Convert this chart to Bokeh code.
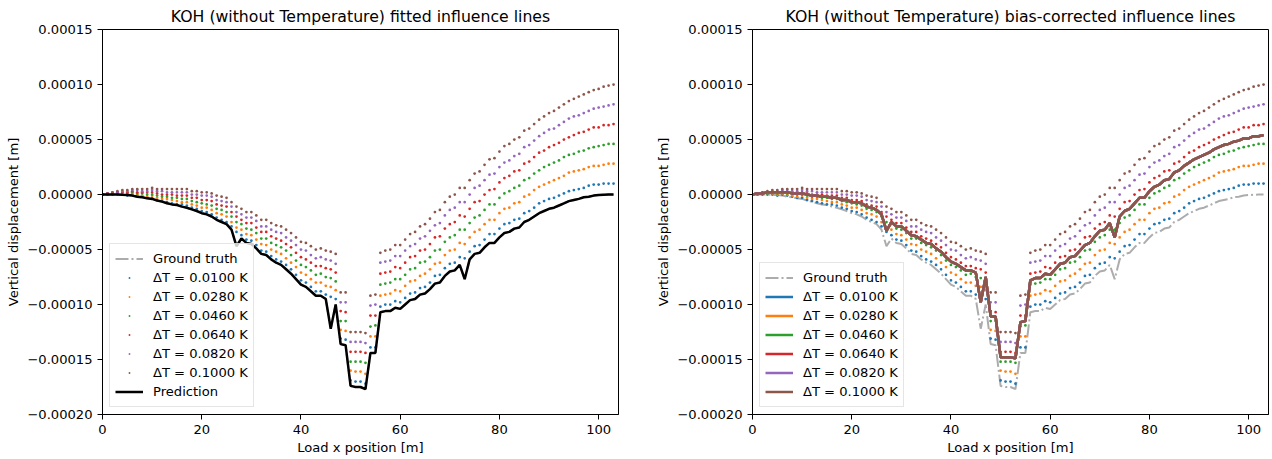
from bokeh.plotting import figure
from bokeh.models import FixedTicker, Legend, LegendItem
from bokeh.layouts import row
from bokeh.embed import file_html
from bokeh.resources import INLINE

# ---------------- data (vertical displacement in micrometres, 1e-6 m) ----------------
load_x = list(range(104))  # load position [m]

ground_truth = [0, 0, 0, 0, -0.3, -0.5, -1, -2, -2.5, -3.5,
                -4, -5.5, -6.5, -8, -9, -9.5, -11, -12, -13.5, -15,
                -17, -18, -20, -23, -25, -27, -32, -47, -40, -44,
                -45, -49, -54, -55, -59, -62, -64, -68, -72, -77,
                -82, -84, -88, -92, -92, -95, -122, -100, -136, -137,
                -174, -175, -175, -177, -144, -144, -107, -106, -106, -103,
                -104, -100, -96, -95, -91, -90, -86, -81, -80, -74,
                -70, -69, -64, -77, -59, -54, -53, -48, -44, -44,
                -39, -35, -34, -31, -30, -25, -23, -20, -17, -15,
                -13, -12, -10, -8, -6, -5, -4, -2.5, -2, -1,
                -0.5, -0.3, -0.1, 0]

prediction = ground_truth  # KOH prediction coincides with the ground truth

dT_0100 = [0, 0, 0, 0, 0, -1, 0, -1, -2, -3,
           -3, -5, -6, -7, -8, -9, -9, -10, -12, -13,
           -15, -16, -18, -21, -23, -25, -29, -34, -37, -41,
           -42, -46, -51, -52, -56, -59, -61, -64, -68, -73,
           -78, -80, -84, -88, -88, -91, -93, -95, -131, -132,
           -169, -170, -170, -172, -139, -139, -102, -100, -100, -97,
           -98, -94, -90, -89, -85, -84, -80, -74, -73, -67,
           -63, -62, -57, -58, -52, -47, -46, -41, -36, -36,
           -31, -27, -26, -23, -22, -17, -15, -12, -8, -6,
           -4, -3, -1, 1, 3, 4, 5, 6, 8, 9,
           9, 10, 10, 10]

dT_0280 = [0, 0, 1, 1, 1, 0, 1, 0, -1, -2,
           -1, -3, -4, -4, -5, -6, -7, -7, -9, -10,
           -12, -12, -14, -17, -18, -20, -25, -30, -32, -36,
           -37, -41, -45, -46, -50, -52, -54, -58, -62, -66,
           -71, -73, -77, -80, -80, -83, -84, -87, -123, -124,
           -160, -161, -161, -163, -129, -129, -92, -91, -90, -87,
           -88, -83, -79, -78, -74, -72, -68, -63, -62, -55,
           -51, -50, -44, -45, -39, -34, -32, -27, -23, -23,
           -17, -13, -12, -8, -7, -2, 0, 4, 7, 9,
           11, 13, 15, 17, 20, 21, 22, 23, 25, 26,
           26, 27, 28, 28]

dT_0460 = [0, 0, 1, 1, 2, 1, 2, 1, 1, 0,
           0, -1, -2, -2, -3, -3, -4, -4, -6, -7,
           -8, -9, -10, -13, -14, -16, -20, -25, -27, -31,
           -32, -35, -40, -40, -44, -46, -48, -51, -55, -60,
           -64, -66, -69, -73, -72, -75, -76, -79, -115, -115,
           -152, -152, -152, -153, -120, -119, -82, -81, -80, -77,
           -77, -73, -68, -67, -62, -61, -57, -51, -50, -43,
           -39, -37, -32, -32, -26, -21, -19, -14, -9, -9,
           -3, 1, 3, 6, 8, 13, 15, 19, 22, 25,
           27, 29, 31, 34, 36, 37, 39, 40, 42, 43,
           44, 45, 46, 46]

dT_0640 = [0, 1, 1, 2, 2, 2, 3, 2, 2, 2,
           2, 1, 0, 0, 0, -1, -1, -1, -3, -3,
           -5, -5, -6, -9, -10, -11, -16, -20, -23, -26,
           -26, -30, -34, -34, -38, -40, -42, -45, -48, -53,
           -57, -59, -62, -65, -65, -67, -68, -71, -106, -107,
           -143, -143, -143, -144, -110, -110, -72, -71, -70, -66,
           -67, -62, -57, -56, -51, -50, -45, -39, -38, -31,
           -27, -25, -19, -20, -13, -7, -6, 0, 4, 5,
           11, 15, 17, 21, 22, 28, 30, 34, 38, 40,
           43, 45, 47, 50, 52, 54, 56, 57, 59, 61,
           61, 63, 63, 64]

dT_0820 = [0, 1, 2, 2, 3, 3, 4, 4, 3, 3,
           4, 3, 3, 2, 2, 2, 2, 2, 0, 0,
           -1, -1, -2, -5, -6, -7, -11, -16, -18, -21,
           -21, -24, -29, -29, -32, -34, -35, -39, -42, -46,
           -50, -51, -55, -58, -57, -59, -60, -63, -98, -98,
           -134, -134, -134, -135, -101, -100, -62, -61, -60, -56,
           -56, -51, -47, -45, -40, -38, -33, -28, -26, -19,
           -14, -12, -7, -7, 0, 6, 8, 13, 18, 19,
           25, 29, 31, 35, 37, 43, 45, 49, 53, 56,
           59, 60, 63, 66, 69, 71, 72, 74, 76, 78,
           79, 80, 81, 82]

dT_1000 = [0, 1, 2, 3, 4, 4, 5, 5, 5, 5,
           6, 5, 5, 5, 5, 5, 5, 5, 3, 3,
           2, 2, 1, -1, -2, -3, -7, -11, -13, -16,
           -16, -19, -23, -23, -26, -28, -29, -32, -35, -39,
           -43, -44, -47, -50, -49, -51, -52, -54, -89, -89,
           -125, -125, -125, -126, -92, -91, -53, -51, -50, -46,
           -46, -41, -36, -34, -29, -27, -22, -16, -14, -7,
           -2, 0, 6, 6, 13, 19, 21, 27, 32, 33,
           39, 44, 46, 50, 52, 58, 60, 64, 68, 71,
           74, 76, 79, 82, 85, 87, 89, 91, 93, 95,
           96, 98, 99, 100]

# bias-corrected prediction (all six temperature cases coincide)
bias_corrected = [0, 1, 1, 2, 2, 2, 2, 2, 1, 1,
                  1, 0, -1, -1, -2, -2, -3, -3, -5, -5,
                  -7, -7, -8, -11, -12, -14, -18, -33, -25, -29,
                  -29, -33, -37, -38, -41, -44, -45, -49, -52, -57,
                  -61, -63, -66, -69, -69, -71, -98, -75, -111, -111,
                  -148, -148, -148, -149, -116, -115, -78, -76, -76, -72,
                  -73, -68, -63, -62, -57, -56, -51, -46, -44, -38,
                  -33, -32, -26, -39, -20, -15, -13, -8, -3, -3,
                  3, 7, 9, 13, 14, 20, 22, 26, 29, 32,
                  34, 36, 38, 41, 43, 45, 46, 48, 49, 51,
                  51, 53, 53, 54]

dT_labels = ["ΔT = 0.0100 K", "ΔT = 0.0280 K", "ΔT = 0.0460 K",
             "ΔT = 0.0640 K", "ΔT = 0.0820 K", "ΔT = 0.1000 K"]
dT_series = [dT_0100, dT_0280, dT_0460, dT_0640, dT_0820, dT_1000]
dT_colors = ["#1f77b4", "#ff7f0e", "#2ca02c", "#d62728", "#9467bd", "#8c564b"]

x_ticks = [0, 20, 40, 60, 80, 100]
y_ticks = [-200, -150, -100, -50, 0, 50, 100, 150]
y_tick_labels = ["−0.00020", "−0.00015", "−0.00010", "−0.00005",
                 "0.00000", "0.00005", "0.00010", "0.00015"]

FONT = "DejaVu Sans"
GT_DASH = "13 3 2 3"
DOT_SIZE = 11  # "dot" marker: drawn dot is a fraction of this size


def make_panel(title, border_left, border_right):
    p = figure(frame_width=516, frame_height=385, x_range=(0, 104), y_range=(-200, 150),
               output_backend="svg", toolbar_location=None,
               min_border_left=border_left, min_border_right=border_right,
               min_border_top=29, min_border_bottom=45)
    p.title.text = title
    p.title.align = "center"
    p.title.text_font = FONT
    p.title.text_font_size = "15.7px"
    p.title.text_font_style = "normal"
    p.title.text_color = "black"
    p.title.standoff = 8
    p.xgrid.visible = False
    p.ygrid.visible = False
    p.outline_line_color = "black"
    p.outline_line_alpha = 1
    p.outline_line_width = 1
    p.xaxis.ticker = FixedTicker(ticks=x_ticks)
    p.yaxis.ticker = FixedTicker(ticks=y_ticks)
    p.yaxis.major_label_overrides = {t: s for t, s in zip(y_ticks, y_tick_labels)}
    p.xaxis.axis_label = "Load x position [m]"
    p.yaxis.axis_label = "Vertical displacement [m]"
    for ax in (p.xaxis[0], p.yaxis[0]):
        ax.major_tick_out = 5
        ax.major_tick_in = 0
        ax.minor_tick_out = 0
        ax.minor_tick_in = 0
        ax.axis_line_color = "black"
        ax.major_tick_line_color = "black"
        ax.major_label_text_font = FONT
        ax.major_label_text_font_size = "13.1px"
        ax.major_label_text_color = "black"
        ax.major_label_standoff = 5
        ax.axis_label_text_font = FONT
        ax.axis_label_text_font_size = "13.1px"
        ax.axis_label_text_font_style = "normal"
        ax.axis_label_text_color = "black"
        ax.axis_label_standoff = 3
    return p


def style_legend(leg):
    leg.label_text_font = FONT
    leg.label_text_font_size = "13.1px"
    leg.label_text_color = "black"
    leg.glyph_width = 28
    leg.glyph_height = 19
    leg.label_height = 19
    leg.label_standoff = 10
    leg.spacing = 0
    leg.padding = 5
    leg.margin = 0
    leg.border_line_color = "#cccccc"
    leg.border_line_width = 1
    leg.background_fill_alpha = 0.8


# ---------------- left panel ----------------
p1 = make_panel("KOH (without Temperature) fitted influence lines", 102, 18)
gt1 = p1.line(load_x, ground_truth, line_color="gray", line_alpha=0.65, line_width=2,
              line_dash=GT_DASH)
items1 = [LegendItem(label="Ground truth", renderers=[gt1])]
for lab, ys, col in zip(dT_labels, dT_series, dT_colors):
    r = p1.scatter(load_x, ys, marker="dot", size=DOT_SIZE, line_color=col, fill_color=col)
    items1.append(LegendItem(label=lab, renderers=[r]))
pr = p1.line(load_x, prediction, line_color="black", line_width=2.5)
items1.append(LegendItem(label="Prediction", renderers=[pr]))
leg1 = Legend(items=items1, location=(7, 7))
style_legend(leg1)
p1.add_layout(leg1)

# ---------------- right panel ----------------
p2 = make_panel("KOH (without Temperature) bias-corrected influence lines", 116, 4)
gt2 = p2.line(load_x, ground_truth, line_color="gray", line_alpha=0.65, line_width=2,
              line_dash=GT_DASH)
for ys, col in zip(dT_series, dT_colors):
    p2.scatter(load_x, ys, marker="dot", size=DOT_SIZE, line_color=col, fill_color=col)
items2 = [LegendItem(label="Ground truth", renderers=[gt2])]
for lab, col in zip(dT_labels, dT_colors):
    r = p2.line(load_x, bias_corrected, line_color=col, line_width=2.5)
    items2.append(LegendItem(label=lab, renderers=[r]))
leg2 = Legend(items=items2, location=(7, 7))
style_legend(leg2)
p2.add_layout(leg2)

layout = row(p1, p2)
open("out.html", "w").write(file_html(layout, INLINE))
